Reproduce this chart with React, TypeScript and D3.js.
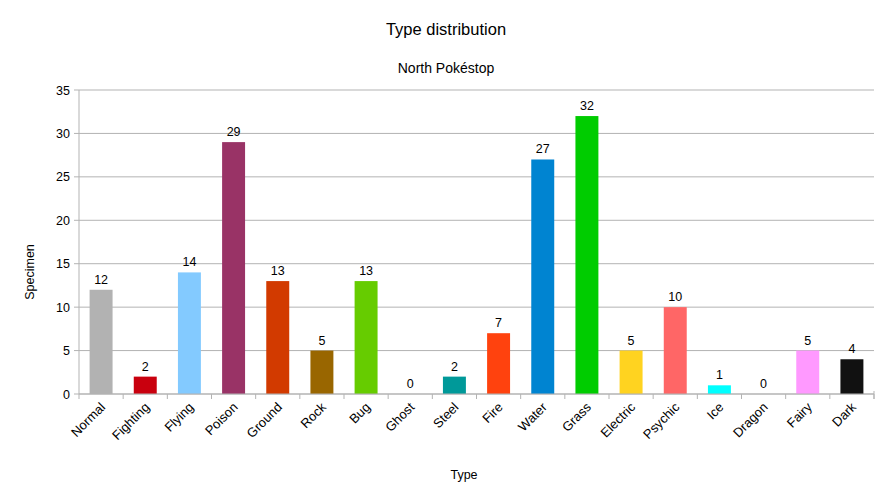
import React from "react";
import * as d3 from "d3";

const categories = ["Normal","Fighting","Flying","Poison","Ground","Rock","Bug","Ghost","Steel","Fire","Water","Grass","Electric","Psychic","Ice","Dragon","Fairy","Dark"];
const values = [12,2,14,29,13,5,13,0,2,7,27,32,5,10,1,0,5,4];
const colors = ["#b2b2b2","#c9000e","#83caff","#993366","#d23a00","#996600","#66cc00","#888888","#009999","#ff420e","#0084d1","#00cc00","#ffd320","#ff6666","#00ffff","#888888","#ff99ff","#111111"];
const yTicks = [0,5,10,15,20,25,30,35];

const W = 892, H = 502;
const M = { left: 79, right: 874, top: 90, bottom: 394 };
const font = "'Liberation Sans', Arial, sans-serif";

export default function App() {
  const x = d3.scaleBand<string>().domain(categories).range([M.left, M.right]).paddingInner(0).paddingOuter(0);
  const y = d3.scaleLinear().domain([0, 35]).range([M.bottom, M.top]);
  const bw = x.bandwidth() * 0.52;
  return (
    <svg width={W} height={H} style={{ position: "absolute", left: 0, top: 0, background: "#fff" }} fontFamily={font}>
      <rect width={W} height={H} fill="#fff" />
      <text x={446} y={35} textAnchor="middle" fontSize={16.5}>Type distribution</text>
      <text x={446} y={73} textAnchor="middle" fontSize={14}>North Pokéstop</text>
      {yTicks.map(t => (
        <g key={t}>
          <line x1={M.left - 5} x2={M.right} y1={y(t)} y2={y(t)} stroke="#b3b3b3" strokeWidth={1} />
          <text x={70} y={y(t) + 4.5} textAnchor="end" fontSize={12.5}>{t}</text>
        </g>
      ))}
      <line x1={M.left} x2={M.left} y1={M.top} y2={M.bottom} stroke="#b3b3b3" />
      {categories.map((c, i) => {
        const cx = x(c)! + x.bandwidth() / 2;
        return (
          <g key={c}>
            <rect x={cx - bw / 2} y={y(values[i])} width={bw} height={M.bottom - y(values[i])} fill={colors[i]} />
            <text x={cx} y={y(values[i]) - 6} textAnchor="middle" fontSize={12.5}>{values[i]}</text>
            <text transform={`translate(${cx + 5},${M.bottom + 14}) rotate(-45)`} textAnchor="end" fontSize={13}>{c}</text>
          </g>
        );
      })}
      {categories.concat([""]).map((c, i) => {
        const xx = M.left + i * x.bandwidth();
        return <line key={i} x1={xx} x2={xx} y1={M.bottom} y2={M.bottom + 5} stroke="#b3b3b3" />;
      })}
      <line x1={M.left} x2={M.right} y1={M.bottom} y2={M.bottom} stroke="#b3b3b3" />
      <line x1={M.right} x2={M.right} y1={M.bottom - 3} y2={M.bottom + 5} stroke="#b3b3b3" />
      <text transform={`translate(34,272) rotate(-90)`} textAnchor="middle" fontSize={12.5}>Specimen</text>
      <text x={464} y={479} textAnchor="middle" fontSize={12.5}>Type</text>
    </svg>
  );
}
